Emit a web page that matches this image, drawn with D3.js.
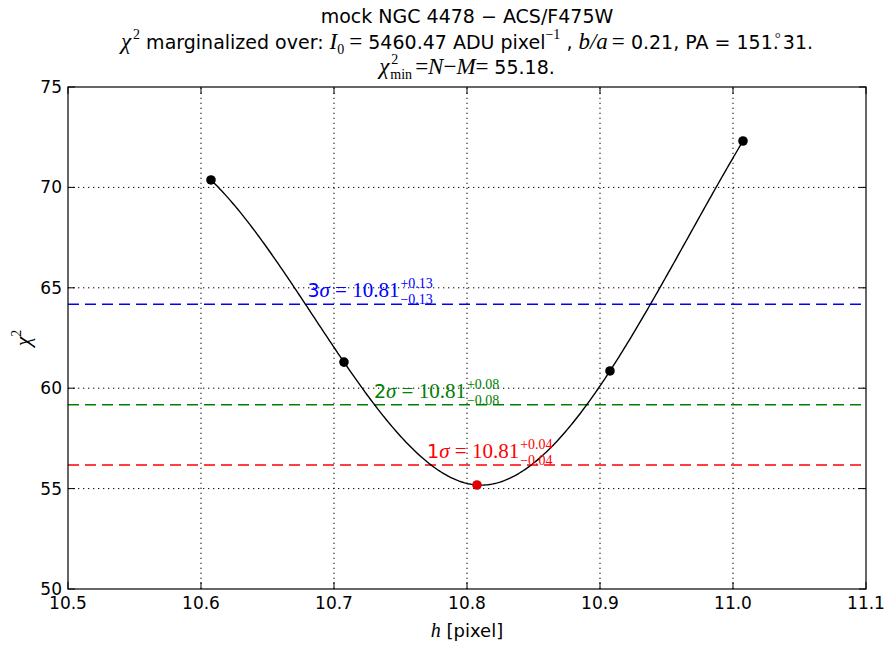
<!DOCTYPE html>
<html>
<head>
<meta charset="utf-8">
<script src="https://cdn.jsdelivr.net/npm/d3@7"></script>
<style>
  body { margin: 0; background: #fff; }
  svg { display: block; }
  .sans { font-family: "DejaVu Sans", sans-serif; }
  .math { font-family: "Liberation Serif", "DejaVu Serif", serif; }
</style>
</head>
<body>
<svg id="chart" width="892" height="646"></svg>
<script>
// chi-square profile of the scale length h
const hValues = [10.6075, 10.7075, 10.8075, 10.9075, 11.0075];
const chi2Values = [70.37, 61.30, 55.18, 60.86, 72.31];
const bestIndex = 2;

// confidence levels: chi2_min + delta
const levelNames = ["3", "2", "1"];
const levelChi2 = [64.18, 59.18, 56.18];
const levelErr = ["0.13", "0.08", "0.04"];
const levelColors = ["#0000ff", "#008000", "#ff0000"];
const bestH = "10.81";

const xTicks = [10.5, 10.6, 10.7, 10.8, 10.9, 11.0, 11.1];
const yTicks = [50, 55, 60, 65, 70, 75];

const W = 892, H = 646;
const margin = { left: 68, right: 26, top: 87, bottom: 57 };
const svg = d3.select("#chart");

const x = d3.scaleLinear().domain([10.5, 11.1]).range([margin.left, W - margin.right]);
const y = d3.scaleLinear().domain([50, 75]).range([H - margin.bottom, margin.top]);

const x0 = x.range()[0], x1 = x.range()[1];
const y0 = y.range()[0], y1 = y.range()[1];

// not-a-knot cubic spline through the profile points
function notAKnotSpline(xs, ys) {
  const n = xs.length;
  const h = d3.range(n - 1).map(i => xs[i + 1] - xs[i]);
  const A = d3.range(n).map(() => new Array(n).fill(0));
  const b = new Array(n).fill(0);
  A[0][0] = -h[1]; A[0][1] = h[0] + h[1]; A[0][2] = -h[0];
  for (let i = 1; i < n - 1; i++) {
    A[i][i - 1] = h[i - 1]; A[i][i] = 2 * (h[i - 1] + h[i]); A[i][i + 1] = h[i];
    b[i] = 6 * ((ys[i + 1] - ys[i]) / h[i] - (ys[i] - ys[i - 1]) / h[i - 1]);
  }
  A[n - 1][n - 3] = -h[n - 2]; A[n - 1][n - 2] = h[n - 3] + h[n - 2]; A[n - 1][n - 1] = -h[n - 3];
  // gaussian elimination with partial pivoting
  for (let c = 0; c < n; c++) {
    let p = c;
    for (let r = c + 1; r < n; r++) if (Math.abs(A[r][c]) > Math.abs(A[p][c])) p = r;
    [A[c], A[p]] = [A[p], A[c]]; [b[c], b[p]] = [b[p], b[c]];
    for (let r = c + 1; r < n; r++) {
      const f = A[r][c] / A[c][c];
      for (let k = c; k < n; k++) A[r][k] -= f * A[c][k];
      b[r] -= f * b[c];
    }
  }
  const M = new Array(n).fill(0);
  for (let r = n - 1; r >= 0; r--) {
    let s = b[r];
    for (let k = r + 1; k < n; k++) s -= A[r][k] * M[k];
    M[r] = s / A[r][r];
  }
  return t => {
    let i = Math.min(n - 2, Math.max(0, d3.bisectRight(xs, t) - 1));
    const hi = h[i], a = xs[i + 1] - t, bb = t - xs[i];
    return M[i] * a * a * a / (6 * hi) + M[i + 1] * bb * bb * bb / (6 * hi)
      + (ys[i] / hi - M[i] * hi / 6) * a + (ys[i + 1] / hi - M[i + 1] * hi / 6) * bb;
  };
}
const spline = notAKnotSpline(hValues, chi2Values);
const fine = d3.range(0, 301).map(k => {
  const t = hValues[0] + (hValues[hValues.length - 1] - hValues[0]) * k / 300;
  return [t, spline(t)];
});

// grid
const grid = svg.append("g").attr("stroke", "#000").attr("stroke-width", 1)
  .attr("stroke-dasharray", "1.3,3.7");
grid.selectAll(".gx").data(xTicks.slice(1, -1)).join("line")
  .attr("x1", d => x(d)).attr("x2", d => x(d)).attr("y1", y0).attr("y2", y1);
grid.selectAll(".gy").data(yTicks.slice(1, -1)).join("line")
  .attr("y1", d => y(d)).attr("y2", d => y(d)).attr("x1", x0).attr("x2", x1);

// confidence level lines
svg.append("g").selectAll("line").data(levelChi2).join("line")
  .attr("x1", x0).attr("x2", x1)
  .attr("y1", d => y(d)).attr("y2", d => y(d))
  .attr("stroke", (d, i) => levelColors[i]).attr("stroke-width", 1.5)
  .attr("stroke-dasharray", "11,6");

// interpolated curve
const line = d3.line().x(d => x(d[0])).y(d => y(d[1]));
svg.append("path").datum(fine)
  .attr("d", line).attr("fill", "none").attr("stroke", "#000").attr("stroke-width", 1.4);

// level labels
levelChi2.forEach((lv, i) => {
  const err = +levelErr[i];
  const t = svg.append("text").attr("class", "math")
    .attr("x", x(+bestH - err)).attr("y", y(lv) - 7)
    .attr("fill", levelColors[i]).attr("font-size", 21);
  t.append("tspan").attr("font-family", "DejaVu Sans").attr("font-size", 19).text(levelNames[i]);
  t.append("tspan").attr("font-style", "italic").text("σ");
  t.append("tspan").text(" = " + bestH);
  const bx = t.node().getComputedTextLength();
  const sx = x(+bestH - err) + bx + 1;
  svg.append("text").attr("class", "math").attr("x", sx).attr("y", y(lv) - 16)
    .attr("fill", levelColors[i]).attr("font-size", 14).text("+" + levelErr[i]);
  svg.append("text").attr("class", "math").attr("x", sx).attr("y", y(lv))
    .attr("fill", levelColors[i]).attr("font-size", 14).text("\u2212" + levelErr[i]);
});

// points
svg.append("g").selectAll("circle").data(hValues).join("circle")
  .attr("cx", d => x(d)).attr("cy", (d, i) => y(chi2Values[i])).attr("r", 4.8)
  .attr("fill", (d, i) => i === bestIndex ? "#e00000" : "#000");

// frame
svg.append("rect").attr("x", x0).attr("y", y1).attr("width", x1 - x0).attr("height", y0 - y1)
  .attr("fill", "none").attr("stroke", "#000").attr("stroke-width", 1.2);

// inward ticks on all sides
const tk = svg.append("g").attr("stroke", "#000").attr("stroke-width", 1);
xTicks.forEach(v => {
  tk.append("line").attr("x1", x(v)).attr("x2", x(v)).attr("y1", y0).attr("y2", y0 - 7);
  tk.append("line").attr("x1", x(v)).attr("x2", x(v)).attr("y1", y1).attr("y2", y1 + 7);
});
yTicks.forEach(v => {
  tk.append("line").attr("y1", y(v)).attr("y2", y(v)).attr("x1", x0).attr("x2", x0 + 7);
  tk.append("line").attr("y1", y(v)).attr("y2", y(v)).attr("x1", x1).attr("x2", x1 - 7);
});

// tick labels
svg.append("g").attr("class", "sans").attr("font-size", 17).attr("text-anchor", "middle")
  .selectAll("text").data(xTicks).join("text")
  .attr("x", d => x(d)).attr("y", y0 + 20).text(d => d.toFixed(1));
svg.append("g").attr("class", "sans").attr("font-size", 17).attr("text-anchor", "end")
  .selectAll("text").data(yTicks).join("text")
  .attr("x", x0 - 6).attr("y", d => y(d) + 6).text(d => d);

// axis labels
const xl = svg.append("text").attr("class", "sans").attr("font-size", 18)
  .attr("text-anchor", "middle").attr("x", (x0 + x1) / 2).attr("y", 637);
xl.append("tspan").attr("font-family", "Liberation Serif").attr("font-style", "italic").attr("font-size", 20).text("h");
xl.append("tspan").text(" [pixel]");

const yl = svg.append("text").attr("class", "math").attr("font-size", 22)
  .attr("transform", `translate(30,${(y0 + y1) / 2}) rotate(-90)`).attr("text-anchor", "middle");
yl.append("tspan").attr("font-style", "italic").text("χ");
yl.append("tspan").attr("font-size", 14).attr("dy", -9).text("2");

// titles
const cx = (x0 + x1) / 2;
const TS = 19, MS = 23, SUB = 14;
svg.append("text").attr("class", "sans").attr("font-size", TS).attr("text-anchor", "middle")
  .attr("x", cx).attr("y", 23).text("mock NGC 4478 \u2212 ACS/F475W");

const t2 = svg.append("text").attr("class", "sans").attr("font-size", TS).attr("text-anchor", "middle")
  .attr("x", cx).attr("y", 49);
const serif = (sel) => sel.attr("font-family", "Liberation Serif").attr("font-size", MS);
const m = (txt) => serif(t2.append("tspan")).attr("font-style", "italic").text(txt);
const s = (txt) => t2.append("tspan").text(txt);
m("χ"); serif(t2.append("tspan")).attr("font-size", SUB).attr("dy", -10).attr("dx", 2).text("2");
t2.append("tspan").attr("dy", 10).text(" marginalized over: ");
m("I"); serif(t2.append("tspan")).attr("font-size", SUB).attr("dy", 5).text("0");
serif(t2.append("tspan")).attr("dy", -5).attr("dx", 5).text("=");
s("  5460.47 ADU pixel");
serif(t2.append("tspan")).attr("font-size", SUB).attr("dy", -10).text("\u22121");
t2.append("tspan").attr("dy", 10).text(" , ");
m("b/a"); serif(t2.append("tspan")).attr("dx", 4).text("=");
s("  0.21, PA = 151.");
serif(t2.append("tspan")).attr("font-size", 15).attr("dy", -6).attr("dx", -4).text("\u00b0");
t2.append("tspan").attr("dy", 6).attr("dx", 2).text("31.");

const t3 = svg.append("text").attr("class", "sans").attr("font-size", TS).attr("text-anchor", "middle")
  .attr("x", cx).attr("y", 74);
serif(t3.append("tspan")).attr("font-style", "italic").text("χ");
serif(t3.append("tspan")).attr("font-size", SUB).attr("dy", -10).attr("dx", 2).text("2");
serif(t3.append("tspan")).attr("font-size", SUB).attr("dy", 15).attr("dx", -8).text("min");
serif(t3.append("tspan")).attr("dy", -5).attr("dx", 3).text("=");
serif(t3.append("tspan")).attr("font-style", "italic").text("N");
serif(t3.append("tspan")).text("\u2212");
serif(t3.append("tspan")).attr("font-style", "italic").text("M");
serif(t3.append("tspan")).text("= ");
t3.append("tspan").text("55.18.");
</script>
</body>
</html>
